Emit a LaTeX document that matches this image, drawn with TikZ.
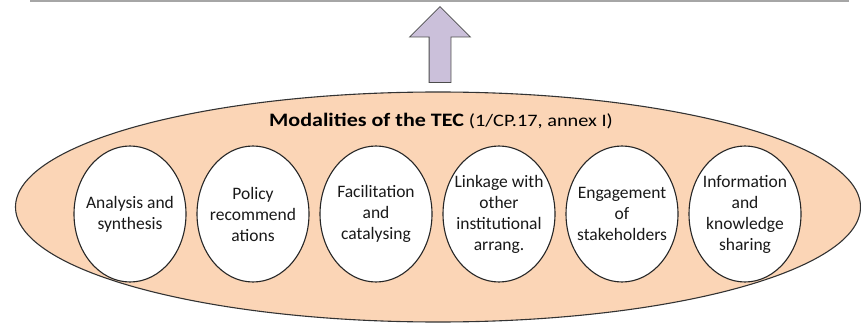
\documentclass[tikz,border=0pt]{standalone}
\usepackage{fontspec}
\setmainfont{Carlito}
\newfontfamily\titlefont{Carlito}[FakeStretch=1.16]
\usetikzlibrary{shapes,arrows,positioning}
\definecolor{peach}{HTML}{FBD5B6}
\definecolor{lavender}{HTML}{CBC0DA}
\definecolor{rulegray}{HTML}{A6A6A6}
\tikzstyle{outer} = [ellipse, draw=black!80, line width=1.1pt, fill=peach,
minimum width=845pt, minimum height=230pt, inner sep=0pt]
\tikzstyle{modality} = [ellipse, draw=black!85, line width=1.1pt, fill=white,
minimum width=112pt, minimum height=136pt, inner sep=0pt]
\tikzstyle{modtext} = [align=center, inner sep=0pt, text=black!90, font=\fontsize{17.5}{21}\selectfont]
\tikzstyle{blockarrow} = [single arrow, draw=black!70, line width=0.8pt, fill=lavender,
rotate=90, minimum height=76pt, minimum width=60pt, inner sep=10.5pt,
single arrow head extend=19.5pt]

\begin{document}
\begin{tikzpicture}[x=1pt, y=-1pt, node distance=123pt]
\useasboundingbox (0,0) rectangle (861,323);
				% Place nodes
				\coordinate (ruleleft) at (30,0.8);
				\coordinate (ruleright) at (849,0.8);
				\draw[rulegray, line width=1.6pt] (ruleleft) -- (ruleright);
				\node (uparrow) [blockarrow, anchor=tail] at (440,83) {};
				\node (frame) [outer] at (438,207) {};
				\node (title) at (441,121) {\titlefont\fontsize{19}{23}\selectfont\bfseries Modalities of the TEC \mdseries\fontsize{17.5}{21}\selectfont(1/CP.17, annex I)};
				\node (analysis) [modality, label={[modtext]center:Analysis and\\synthesis}] at (130,214) {};
				\node (policy) [modality, right of=analysis, label={[modtext]center:Policy\\recommend\\ations}] {};
				\node (facilitation) [modality, right of=policy, label={[modtext]center:Facilitation\\and\\catalysing}] {};
				\node (linkage) [modality, right of=facilitation, label={[modtext]center:Linkage with\\other\\institutional\\arrang.}] {};
				\node (engagement) [modality, right of=linkage, label={[modtext]center:Engagement\\of\\stakeholders}] {};
				\node (information) [modality, right of=engagement, label={[modtext]center:Information\\and\\knowledge\\sharing}] {};
			\end{tikzpicture}
\end{document}
